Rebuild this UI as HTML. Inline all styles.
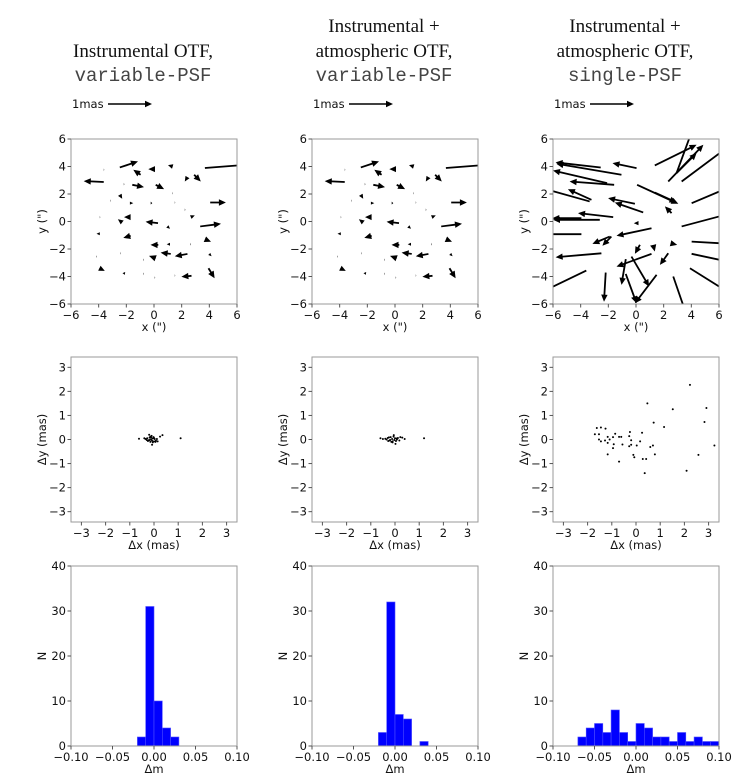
<!DOCTYPE html>
<html><head><meta charset="utf-8"><style>
html,body{margin:0;padding:0;background:#fff;}
svg{display:block;}
.tk{font-family:"DejaVu Sans","Liberation Sans",sans-serif;font-size:11.5px;fill:#111;}
.ttl{font-family:"Liberation Serif",serif;font-size:19px;fill:#111;}
.mono{font-family:"Liberation Mono",monospace;font-size:19px;fill:#444;}
</style></head><body>
<svg id="fig" width="747" height="783" viewBox="0 0 747 783" xmlns="http://www.w3.org/2000/svg"></svg>
<script>
// ---- Quiver data (tail x, tail y in arcsec; u, v vector in arcsec-plot units) ----
const q1x=[-2.47,-0.97,0.07,1.35,3.68,-3.63,-3.63,-1.57,0.12,2.42,2.9,-2.47,-1.74,-0.24,4.06,1.33,-3.15,-2.18,1.5,2.23,2.66,-2.30,-1.69,0.29,3.34,0.97,-3.92,-3.92,-1.69,0.31,1.16,1.21,2.42,3.68,0.12,3.995,-3.95,-2.18,-0.77,0.05,1.5,-4.16,-2.42,-0.77,2.62,2.71,3.94];
const q1y=[3.93,3.40,3.81,4.0,3.89,2.87,3.76,2.67,2.67,3.23,3.4,1.94,1.34,1.34,1.38,2.06,1.51,2.72,1.38,0.85,0.32,-0.07,0.32,-0.12,-0.36,-0.36,0.32,-0.89,-1.04,-1.70,-1.65,-2.36,-2.36,-1.29,-2.67,-2.36,-3.4,-3.71,-3.81,-4.08,-3.93,-2.55,-2.31,-2.79,-1.65,-3.95,-3.4];
const q1u=[1.31,-0.53,-0.48,-0.34,3.0,-1.45,0.03,0.85,0.61,-0.19,0.48,0.17,0.24,0.12,1.14,0.03,0.03,0.03,0.03,0.03,0.29,-0.31,-0.48,-0.9,1.5,0.19,0.03,-0.24,-0.53,-0.56,-0.24,-0.73,-0.92,0.44,-0.48,0.17,0.39,0.07,0.03,0.03,0.03,0.03,0.03,0.03,0.03,-0.73,0.44];
const q1v=[0.44,0.36,0,0.1,0.24,0.07,0,-0.17,-0.31,-0.32,-0.49,-0.29,0,0,0,0,0,0,0,0,0.12,0.24,0,0.1,0.19,-0.17,0,0,-0.15,0,0,0.1,-0.17,-0.19,0.17,-0.17,-0.19,-0.17,0,0,0,0,0,0,0,-0.07,-0.73];
const q2x=q1x, q2y=q1y, q2u=q1u, q2v=q1v;
const q3x=[0.04,-2.55,-1.05,-1.58,-2.09,-3.22,-0.08,0.52,-1.65,-2.62,-3.95,-3.35,1.12,0.18,-1.90,-1.78,-2.50,1.12,0.28,1.24,2.33,2.50,-0.74,-2.19,-0.33,-0.74,1.49,0.08,1.36,2.57,2.33,1.36,2.93,2.93,3.30,3.30,4.02,4.02,4.02,3.90,2.69,-3.95,-3.59];
const q3y=[3.88,3.93,3.40,2.67,2.79,1.58,1.29,0.66,0.32,0.12,0.24,1.46,-0.49,-0.12,-1.09,-1.09,-2.31,-2.35,-1.70,-1.70,-2.31,-1.58,-2.74,-3.71,-2.55,-3.81,-3.88,2.67,2.11,0.61,2.91,4.08,3.52,3.52,2.91,-0.36,1.33,-1.46,-2.35,-3.40,-4.0,-0.92,-3.57];
const q3u=[-1.74,-3.26,-4.71,-3.22,-3.91,-1.70,-1.94,-2.05,-2.54,-3.38,-2.1,-3.9,-2.53,-0.34,-1.25,-0.65,-3.31,-2.53,-0.36,0.12,-0.6,0.48,-0.31,-0.12,1.28,0.78,-1.57,2.98,1.57,-0.48,2.54,3.02,1.45,1.2,4.0,4.0,3.0,3.0,3.0,3.1,1.0,-3.2,-3.5];
const q3v=[0.37,0.37,0.80,0.24,0.92,0.77,0.41,0.72,0.29,0,0,1.1,-0.55,0,-0.54,-0.68,-0.29,-0.93,-0.65,-0.48,-0.85,-0.12,-1.87,-2.12,-2.18,-2.14,-2.07,-1.38,-0.73,0.49,2.67,1.5,1.46,3.3,3.0,1.07,1.28,-0.18,-0.65,-1.95,-2.9,0,-1.7];
// ---- Scatter data (mas) ----
const s1x=[-0.35,-0.28,-0.22,-0.18,-0.15,-0.12,-0.08,-0.05,-0.02,0.0,0.03,0.06,-0.25,-0.1,-0.3,-0.2,-0.05,0.08,0.12,-0.15,-0.4,-0.62,0.25,0.35,-0.08,1.1,0.0,-0.18,0.15,-0.12];
const s1y=[0.02,0.05,-0.03,0.08,0.12,0.0,-0.05,0.04,0.1,-0.08,0.02,-0.1,-0.06,0.15,-0.02,0.2,-0.12,-0.05,0.02,-0.1,0.05,0.03,0.12,0.18,-0.22,0.05,0.06,-0.02,-0.08,0.08];
const s2x=[-0.35,-0.3,-0.22,-0.18,-0.12,-0.1,-0.06,-0.03,0.0,0.04,0.08,-0.25,-0.15,-0.4,-0.2,-0.05,0.12,0.18,-0.5,-0.6,0.3,0.4,0.02,1.2,-0.1,0.22,-0.28,0.06];
const s2y=[0.0,0.06,-0.04,0.1,0.02,-0.08,0.12,-0.02,0.05,-0.06,0.0,0.09,-0.1,0.03,-0.02,0.18,0.06,-0.04,0.02,0.05,0.08,0.02,-0.18,0.05,-0.12,0.1,-0.06,0.04];
const s3x=[-1.70,-1.62,-1.45,-1.26,-1.53,-1.53,-1.45,-1.28,-1.17,-1.17,-1.09,-0.95,-0.86,-0.92,-0.95,-1.17,-0.70,-0.61,-0.56,-0.70,-0.28,-0.25,-0.20,-0.28,-0.20,-0.11,-0.07,0.03,0.17,0.25,0.28,0.42,0.36,0.47,0.59,0.70,0.73,0.78,1.16,1.52,2.09,2.23,2.58,2.83,2.91,3.24];
const s3y=[0.22,0.48,0.50,0.45,0.22,0,-0.08,-0.04,0.11,-0.14,0,0.10,0.24,-0.20,-0.36,-0.62,0.11,0.11,-0.21,-0.92,0.14,0.31,-0.03,-0.28,-0.22,-0.64,-0.74,-0.25,-0.08,0.28,-0.81,-0.81,-1.40,1.50,-0.31,-0.25,0.70,-0.62,0.52,1.26,-1.30,2.27,-0.64,0.73,1.31,-0.25];
// ---- Histogram data (bin left edges, counts) ----
const h1bins=[-0.02,-0.01,0.0,0.01,0.02];
const h1counts=[2,31,10,4,2];
const h2bins=[-0.02,-0.01,0.0,0.01,0.02,0.03];
const h2counts=[3,32,7,6,0,1];
const h3bins=[-0.07,-0.06,-0.05,-0.04,-0.03,-0.02,-0.01,0.0,0.01,0.02,0.03,0.04,0.05,0.06,0.07,0.08,0.09];
const h3counts=[2,4,5,3,8,3,1,5,4,2,2,1,3,1,2,1,1];
const binW=0.01;
const quivTicks=[-6,-4,-2,0,2,4,6];
const scatTicks=[-3,-2,-1,0,1,2,3];
const histXTicks=[-0.10,-0.05,0.00,0.05,0.10];
const histYTicks=[0,10,20,30,40];

const NS='http://www.w3.org/2000/svg';
const svg=document.getElementById('fig');
function mk(tag,attrs,parent){const e=document.createElementNS(NS,tag);for(const k in attrs)e.setAttribute(k,attrs[k]);(parent||svg).appendChild(e);return e;}
const COLX=[71,312,553], W=166;
const ROWS={q:{y:139,h:165},s:{y:357,h:165},h:{y:566,h:180}};
let clipId=0;
function fmt(v,d){let s=v.toFixed(d);if(v<-1e-9)s='\u2212'+s.slice(1);return s;}
function axes(ci,row,xmin,xmax,ymin,ymax,xt,yt,xd,yd,xlabel,ylabel,name){
  const x0=COLX[ci],y0=ROWS[row].y,h=ROWS[row].h;
  const g=mk('g',{});
  
  
  const sx=v=>x0+(v-xmin)/(xmax-xmin)*W;
  const sy=v=>y0+h-(v-ymin)/(ymax-ymin)*h;
  clipId++;
  const cp=mk('clipPath',{id:'c'+clipId},g);mk('rect',{x:x0,y:y0,width:W,height:h},cp);
  const plot=mk('g',{'clip-path':'url(#c'+clipId+')'},g);
  const frame=mk('rect',{x:x0,y:y0,width:W,height:h,fill:'none',stroke:'#9a9a9a','stroke-width':1},g);
  
  
  xt.forEach(t=>{const px=sx(t);mk('line',{x1:px,x2:px,y1:y0+h,y2:y0+h+3.5,stroke:'#555'},g);
    const tx=mk('text',{x:px,y:y0+h+15,'text-anchor':'middle',class:'tk'},g);tx.textContent=fmt(t,xd);
    
    });
  yt.forEach(t=>{const py=sy(t);mk('line',{x1:x0,x2:x0-3.5,y1:py,y2:py,stroke:'#555'},g);
    const tx=mk('text',{x:x0-5,y:py+4,'text-anchor':'end',class:'tk'},g);tx.textContent=fmt(t,yd);
    
    });
  const xl=mk('text',{x:x0+W/2,y:y0+h+27,'text-anchor':'middle',class:'tk'},g);xl.textContent=xlabel;
  
  
  const yx=x0-25;
  const yl=mk('text',{x:yx,y:y0+h/2,'text-anchor':'middle',class:'tk',transform:'rotate(-90 '+yx+' '+(y0+h/2)+')'},g);yl.textContent=ylabel;
  
  
  return {sx,sy,plot};
}
function arrow(g,x1,y1,x2,y2,w){
  const dx=x2-x1,dy=y2-y1,L=Math.hypot(dx,dy);if(L<0.01)return;
  const ux=dx/L,uy=dy/L,nx=-uy,ny=ux;
  let hl=7,hw=3.2,sw=w/2;
  if(L<hl){const f=L/hl;hl=L;hw*=Math.max(f,0.45);sw*=Math.max(f,0.45);}
  const bx=x2-ux*hl,by=y2-uy*hl;
  const pts=[[x1+nx*sw,y1+ny*sw],[bx+nx*sw,by+ny*sw],[bx+nx*hw,by+ny*hw],[x2,y2],[bx-nx*hw,by-ny*hw],[bx-nx*sw,by-ny*sw],[x1-nx*sw,y1-ny*sw]];
  const p=mk('polygon',{points:pts.map(p=>p[0].toFixed(1)+','+p[1].toFixed(1)).join(' '),fill:'#000'},g);
  
  
}
function quiver(ci,X,Y,U,V,name){
  const a=axes(ci,'q',-6,6,-6,6,quivTicks,quivTicks,0,0,'x (")','y (")',name);
  for(let i=0;i<X.length;i++){arrow(a.plot,a.sx(X[i]),a.sy(Y[i]),a.sx(X[i]+U[i]),a.sy(Y[i]+V[i]),1.8);}
}
function scatter(ci,X,Y,name){
  const a=axes(ci,'s',-3.43,3.43,-3.43,3.43,scatTicks,scatTicks,0,0,'\u0394x (mas)','\u0394y (mas)',name);
  for(let i=0;i<X.length;i++){const c=mk('circle',{cx:a.sx(X[i]),cy:a.sy(Y[i]),r:1,fill:'#000'},a.plot);
    
    }
}
function hist(ci,B,C,name){
  const a=axes(ci,'h',-0.1,0.1,0,40,histXTicks,histYTicks,2,0,'\u0394m','N',name);
  for(let i=0;i<B.length;i++){if(!C[i])continue;const x1=a.sx(B[i]),x2=a.sx(B[i]+binW),yt=a.sy(C[i]),yb=a.sy(0);
    const r=mk('rect',{x:x1,y:yt,width:x2-x1,height:yb-yt,fill:'#0000ff',stroke:'#4d4dff','stroke-width':0.6},a.plot);
    
    }
}
quiver(0,q1x,q1y,q1u,q1v,'quiver-instrumental-variable');
quiver(1,q2x,q2y,q2u,q2v,'quiver-atmospheric-variable');
quiver(2,q3x,q3y,q3u,q3v,'quiver-atmospheric-single');
scatter(0,s1x,s1y,'scatter-instrumental-variable');
scatter(1,s2x,s2y,'scatter-atmospheric-variable');
scatter(2,s3x,s3y,'scatter-atmospheric-single');
hist(0,h1bins,h1counts,'hist-instrumental-variable');
hist(1,h2bins,h2counts,'hist-atmospheric-variable');
hist(2,h3bins,h3counts,'hist-atmospheric-single');
// titles
const titles=[[['Instrumental OTF,','ttl',57],['variable-PSF','mono',81]],
 [['Instrumental +','ttl',32],['atmospheric OTF,','ttl',57],['variable-PSF','mono',81]],
 [['Instrumental +','ttl',32],['atmospheric OTF,','ttl',57],['single-PSF','mono',81]]];
titles.forEach((lines,ci)=>{lines.forEach(l=>{const t=mk('text',{x:COLX[ci]+W/2-11,y:l[2],'text-anchor':'middle',class:l[1]});t.textContent=l[0];
  
  });
  const k=mk('text',{x:COLX[ci]+1,y:108,class:'tk'});k.textContent='1mas';
  
  
  const kg=mk('g',{});
  
  
  arrow(kg,COLX[ci]+37,104,COLX[ci]+81,104,1.6);
});
</script>
</body></html>
